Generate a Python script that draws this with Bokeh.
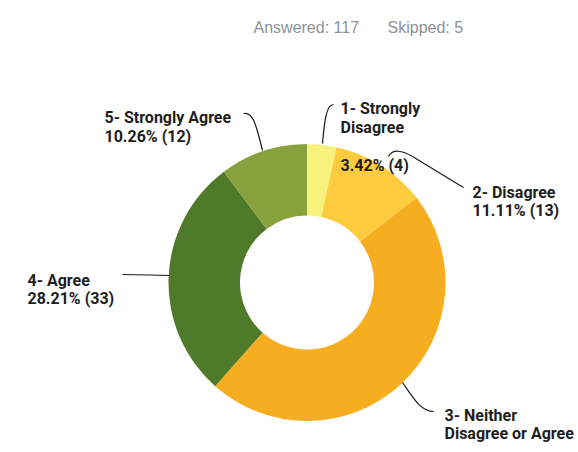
import numpy as np
from bokeh.plotting import figure
from bokeh.models import Range1d
from bokeh.core.properties import value
from bokeh.embed import file_html
from bokeh.resources import INLINE

# ---- data ----
categories = ["1- Strongly Disagree", "2- Disagree", "3- Neither Disagree or Agree", "4- Agree", "5- Strongly Agree"]
counts = [4, 13, 55, 33, 12]
answered = 117
skipped = 5
colors = ["#f6f27c", "#fdcb3e", "#f6ae20", "#4f7a29", "#87a13d"]

W, H = 578, 452
p = figure(width=W, height=H, output_backend="svg", toolbar_location=None,
           x_range=Range1d(0, W), y_range=Range1d(0, H), min_border=0,
           outline_line_color=None)
p.axis.visible = False
p.grid.visible = False
p.background_fill_color = "white"
p.border_fill_color = "white"

def X(px):
    return px

def Y(py):
    return H - py

cx, cy = X(306.5), Y(282)
R_out, R_in = 138.5, 67

total = sum(counts)
fr = np.array(counts) / total
cum = np.concatenate([[0], np.cumsum(fr)])
start = np.pi / 2 - 2 * np.pi * cum[:-1]
end = np.pi / 2 - 2 * np.pi * cum[1:]

p.annular_wedge(x=[cx] * len(counts), y=[cy] * len(counts), inner_radius=R_in, outer_radius=R_out,
                start_angle=start, end_angle=end, direction="clock",
                fill_color=colors, line_color=None)

pct = [f"{c / total * 100:.2f}% ({c})" for c in counts]

font = value("Roboto")
lab_col = "#1e1e1e"

def txt(x, y, s, size="16px", color=lab_col, style="bold", f=font):
    p.text(x=[X(x)], y=[Y(y)], text=[s], text_font=f, text_font_size=size,
           text_color=color, text_font_style=style, text_baseline="alphabetic", text_align="left")

# labels
txt(104, 117, "5- Strongly Agree")
txt(104, 136, pct[4])
txt(340, 108, "1- Strongly")
txt(340, 127, "Disagree")
txt(340, 165, pct[0])
txt(472, 192, "2- Disagree")
txt(472, 210, pct[1])
txt(27, 280, "4- Agree")
txt(27, 298, pct[3])
txt(444, 415, "3- Neither")
txt(444, 433, "Disagree or Agree")

# header
hf = value("Liberation Sans")
txt(253, 27, f"Answered: {answered}", size="16px", color="#8b9298", style="normal", f=hf)
txt(387, 27, f"Skipped: {skipped}", size="16px", color="#8b9298", style="normal", f=hf)

# leader lines
lc = "#1a1a1a"
p.bezier(x0=[X(243)], y0=[Y(113)], x1=[X(262)], y1=[Y(150)],
         cx0=[X(253)], cy0=[Y(111)], cx1=[X(256)], cy1=[Y(126)], line_color=lc, line_width=1.2)
p.bezier(x0=[X(333)], y0=[Y(104)], x1=[X(322)], y1=[Y(143)],
         cx0=[X(326)], cy0=[Y(104)], cx1=[X(324)], cy1=[Y(120)], line_color=lc, line_width=1.2)
p.bezier(x0=[X(388)], y0=[Y(156)], x1=[X(412)], y1=[Y(156)],
         cx0=[X(392)], cy0=[Y(148)], cx1=[X(402)], cy1=[Y(150)], line_color=lc, line_width=1.2)
p.line(x=[X(412), X(463)], y=[Y(156), Y(187)], line_color=lc, line_width=1.2)
p.line(x=[X(122), X(148), X(169)], y=[Y(274), Y(274.5), Y(275)], line_color=lc, line_width=1.2)
p.bezier(x0=[X(402)], y0=[Y(382)], x1=[X(433)], y1=[Y(411)],
         cx0=[X(412)], cy0=[Y(396)], cx1=[X(420)], cy1=[Y(411)], line_color=lc, line_width=1.2)

open("out.html", "w").write(file_html(p, INLINE))
